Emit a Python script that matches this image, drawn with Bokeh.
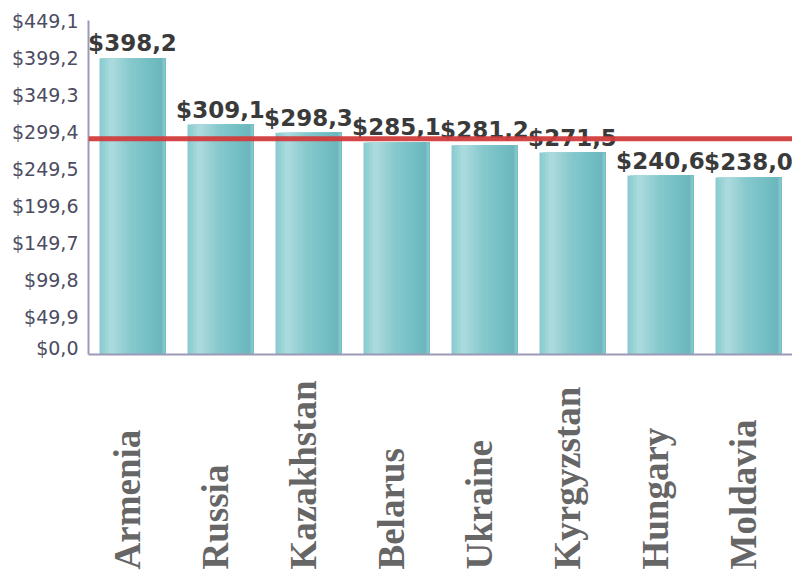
import numpy as np
from bokeh.plotting import figure
from bokeh.layouts import column
from bokeh.models import Range1d, FixedTicker, Span
from bokeh.core.properties import value
from bokeh.embed import file_html
from bokeh.resources import INLINE

countries = ["Armenia", "Russia", "Kazakhstan", "Belarus", "Ukraine", "Kyrgyzstan", "Hungary", "Moldavia"]
values = [398.2, 309.1, 298.3, 285.1, 281.2, 271.5, 240.6, 238.0]
value_labels = ["$398,2", "$309,1", "$298,3", "$285,1", "$281,2", "$271,5", "$240,6", "$238,0"]
y_ticks = [0.0, 49.9, 99.8, 149.7, 199.6, 249.5, 299.4, 349.3, 399.2, 449.1]
y_tick_labels = ["$0,0", "$49,9", "$99,8", "$149,7", "$199,6", "$249,5", "$299,4", "$349,3", "$399,2", "$449,1"]

n = len(countries)
W = 792
p = figure(width=W, height=358, output_backend="svg", toolbar_location=None,
           x_range=Range1d(0, n), y_range=Range1d(0, 449.1),
           min_border_left=88, min_border_right=0, min_border_top=20, min_border_bottom=4)
p.outline_line_color = None
p.xgrid.visible = False
p.ygrid.visible = False

# gradient bars made of overlapping strips
grad_stops = [(0.0, (0x86, 0xca, 0xce)), (0.18, (0xae, 0xdc, 0xdf)), (0.45, (0x88, 0xca, 0xce)),
              (0.75, (0x74, 0xbf, 0xc4)), (0.93, (0x6b, 0xb7, 0xbc)), (1.0, (0x8e, 0xcc, 0xd0))]
def grad_color(t):
    for (t0, c0), (t1, c1) in zip(grad_stops[:-1], grad_stops[1:]):
        if t <= t1:
            f = (t - t0) / (t1 - t0) if t1 > t0 else 0
            c = [int(round(a + (b - a) * f)) for a, b in zip(c0, c1)]
            return "#%02x%02x%02x" % tuple(c)
    return "#%02x%02x%02x" % grad_stops[-1][1]

bar_w = 0.75
N = 22
centers = np.arange(n) + 0.5
strip = bar_w / N
for k in range(N):
    t = (k + 0.5) / N
    left = centers - bar_w / 2 + k * strip
    right = centers + bar_w / 2
    p.quad(left=left, right=right, top=values, bottom=0, fill_color=grad_color(t), line_color=None)

# average line
avg = float(np.mean(values))
p.add_layout(Span(location=avg, dimension="width", line_color="#d23c3c", line_width=5, line_alpha=0.95))

# value labels
p.text(x=centers, y=values, text=value_labels, text_align="center", text_baseline="bottom",
       y_offset=-2, text_font=value("DejaVu Sans"), text_font_style="bold", text_font_size="23px",
       text_color="#3a3a3a")

# axes
p.yaxis.ticker = FixedTicker(ticks=y_ticks)
p.yaxis.major_label_overrides = {t: l for t, l in zip(y_ticks, y_tick_labels)}
p.yaxis.major_label_text_font = "DejaVu Sans"
p.yaxis.major_label_text_font_size = "19px"
p.yaxis.major_label_text_color = "#4c4c62"
p.yaxis.major_tick_line_color = None
p.yaxis.minor_tick_line_color = None
p.yaxis.major_tick_out = 0
p.yaxis.axis_line_color = "#9a9ab8"
p.yaxis.axis_line_width = 2
p.yaxis.major_label_standoff = 10

p.xaxis.ticker = FixedTicker(ticks=[])
p.xaxis.major_tick_line_color = None
p.xaxis.minor_tick_line_color = None
p.xaxis.major_tick_out = 0
p.xaxis.major_label_standoff = 0
p.xaxis.axis_line_color = "#9a9ab8"
p.xaxis.axis_line_width = 2
p.xaxis.major_label_text_font_size = "0px"

# category labels in a strip below, rotated and bottom-aligned
p2 = figure(width=W, height=214, output_backend="svg", toolbar_location=None,
            x_range=p.x_range, y_range=Range1d(0, 214),
            min_border_left=88, min_border_right=0, min_border_top=0, min_border_bottom=0)
p2.outline_line_color = None
p2.axis.visible = False
p2.grid.visible = False
p2.text(x=centers, y=[0] * n, text=countries, angle=np.pi / 2, x_offset=-5, y_offset=-3,
        text_align="left", text_baseline="middle", text_font=value("Liberation Serif"),
        text_font_style="bold", text_font_size="37px", text_color="#666666")

layout = column(p, p2, spacing=0)
open("out.html", "w").write(file_html(layout, INLINE))
